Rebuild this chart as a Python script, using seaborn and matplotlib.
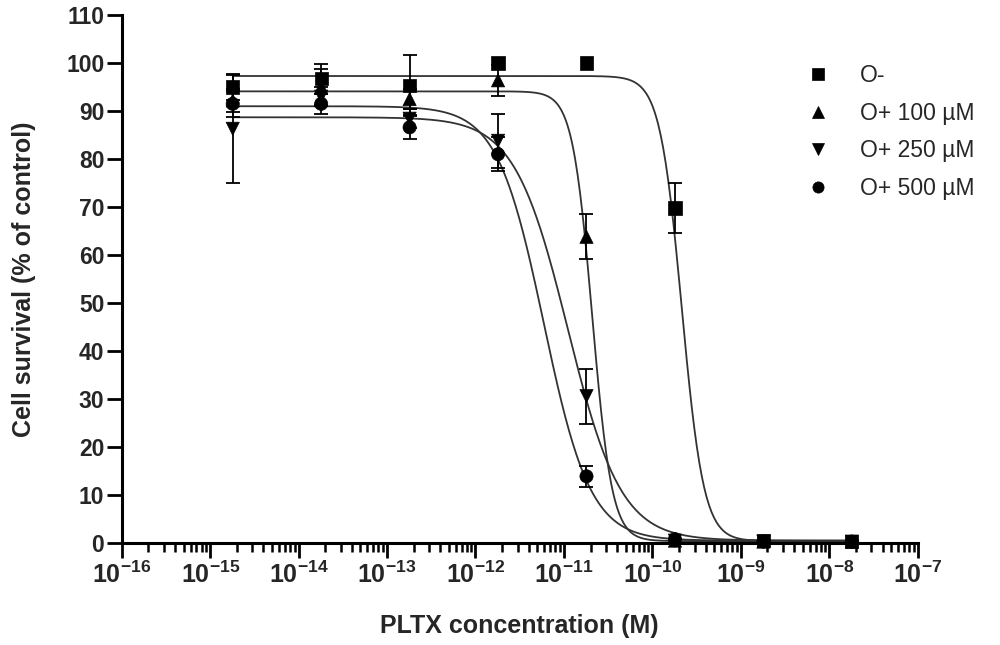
import numpy as np
import pandas as pd
import seaborn as sns
import matplotlib
matplotlib.use('Agg')
import matplotlib.pyplot as plt
from matplotlib.ticker import LogLocator, FuncFormatter, MultipleLocator, NullFormatter

# PLTX concentrations (M)
conc = [1.8e-15, 1.8e-14, 1.8e-13, 1.8e-12, 1.8e-11, 1.8e-10, 1.8e-9, 1.8e-8]
groups = ['O-', 'O+ 100 µM', 'O+ 250 µM', 'O+ 500 µM']

# mean cell survival (% of control) and SEM
o_minus = [95.0, 96.7, 95.3, 100.0, 100.0, 69.8, 0.5, 0.4]
o_minus_err = [2.8, 3.2, 6.4, 0, 0, 5.3, 0, 0]
o100 = [92.2, 95.0, 92.5, 96.4, 63.8, 0.5, 0.3, 0.3]
o100_err = [2.4, 3.8, 2.0, 3.2, 4.7, 0, 0, 0]
o250 = [86.3, 93.0, 88.4, 83.8, 30.6, 0.5, 0.3, 0.3]
o250_err = [11.3, 2.0, 2.0, 5.6, 5.7, 0, 0, 0]
o500 = [91.5, 91.5, 86.6, 81.0, 13.9, 0.8, 0.3, 0.3]
o500_err = [2.7, 2.1, 2.5, 3.5, 2.2, 0, 0, 0]

# four-parameter logistic fits (top, bottom, logEC50, hill slope)
fit_top = [97.3, 94.1, 88.7, 91.0]
fit_bottom = [0.4, 0.4, 0.5, 0.5]
fit_logec50 = [-9.667, -10.68, -10.956, -11.227]
fit_hill = [3.5, 3.89, 1.44, 1.65]

means = [o_minus, o100, o250, o500]
errs = [o_minus_err, o100_err, o250_err, o500_err]
markers = ['s', '^', 'v', 'o']

sns.set_theme(style='ticks')
plt.rcParams['font.family'] = ['Liberation Sans', 'DejaVu Sans']
plt.rcParams['mathtext.fontset'] = 'custom'
plt.rcParams['mathtext.rm'] = 'Liberation Sans:bold'
plt.rcParams['mathtext.bf'] = 'Liberation Sans:bold'
plt.rcParams['mathtext.it'] = 'Liberation Sans:bold'

df = pd.DataFrame({
    'conc': conc * 4,
    'survival': sum(means, []),
    'group': np.repeat(groups, len(conc)),
})

# fitted curves evaluated over the tested range
xfit = np.logspace(np.log10(conc[0]), np.log10(conc[-1]), 500)
curve_rows = []
for g, top, bot, ec, h in zip(groups, fit_top, fit_bottom, fit_logec50, fit_hill):
    yfit = bot + (top - bot) / (1 + 10 ** ((np.log10(xfit) - ec) * h))
    curve_rows.append(pd.DataFrame({'conc': xfit, 'survival': yfit, 'group': g}))
curve_df = pd.concat(curve_rows)

fig = plt.figure(figsize=(10, 6.45), dpi=100)
ax = fig.add_axes([0.1217, 0.1581, 0.796, 0.8186])
ax.set_xscale('log')

for g in groups:
    sns.lineplot(data=curve_df[curve_df['group'] == g], x='conc', y='survival',
                 color='#333333', lw=1.3, ax=ax, legend=False, zorder=2)

for m, e in zip(means, errs):
    idx = [i for i in range(len(conc)) if e[i] > 0]
    ax.errorbar([conc[i] for i in idx], [m[i] for i in idx], yerr=[e[i] for i in idx],
                fmt='none', ecolor='black', elinewidth=1.3, capsize=4.8, capthick=1.3, zorder=2.5)

sns.scatterplot(data=df, x='conc', y='survival', style='group',
                markers=dict(zip(groups, markers)), color='black', s=90,
                edgecolor='black', linewidth=0.5, ax=ax, zorder=3)
for coll in ax.collections:
    coll.set_clip_on(False)

ax.set_xlim(1e-16, 1e-7)
ax.set_ylim(0, 110)
ax.yaxis.set_major_locator(MultipleLocator(10))
ax.xaxis.set_major_locator(LogLocator(base=10, numticks=20))
ax.xaxis.set_minor_locator(LogLocator(base=10, subs=np.arange(2, 10), numticks=20))
ax.xaxis.set_minor_formatter(NullFormatter())
ax.xaxis.set_major_formatter(FuncFormatter(
    lambda v, pos: r'$\mathbf{10^{%d}}$' % int(round(np.log10(v)))))

sns.despine(ax=ax)
for side in ['left', 'bottom']:
    ax.spines[side].set_linewidth(2.2)
    ax.spines[side].set_color('black')
ax.tick_params(axis='both', which='major', length=10.5, width=2.0, color='black')
ax.tick_params(axis='x', which='minor', length=6.5, width=1.8, color='black')
ax.tick_params(axis='y', labelsize=16.5, pad=2)
ax.tick_params(axis='x', labelsize=18, pad=3)
for lab in ax.get_yticklabels():
    lab.set_fontweight('bold')

ax.set_xlabel('PLTX concentration (M)', fontsize=18, fontweight='bold')
ax.set_ylabel('Cell survival (% of control)', fontsize=18, fontweight='bold')
ax.xaxis.set_label_coords(0.5, -0.134)
ax.yaxis.set_label_coords(-0.108, 0.5)

handles, labels = ax.get_legend_handles_labels()
ax.legend(handles, labels, loc='upper left', bbox_to_anchor=(0.807, 0.901),
          bbox_transform=fig.transFigure, frameon=False, fontsize=16.5,
          handlelength=1.0, handletextpad=1.3, labelspacing=0.64,
          borderaxespad=0, borderpad=0, markerscale=0.85)

fig.savefig('out.png', dpi=100)
